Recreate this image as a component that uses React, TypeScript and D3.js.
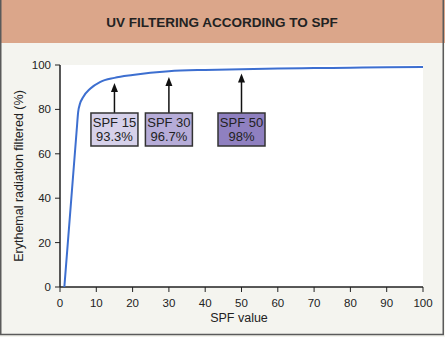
import React from "react";
import * as d3 from "d3";

const spfValues = [1.2, 4.6, 5.0, 5.5, 6.4, 8.3, 11, 15, 20, 30, 40, 50, 60, 70, 80, 90, 100];
const filtered = [0, 70.7, 78.8, 82.5, 85.6, 89.3, 92.3, 94.2, 95.5, 97.2, 97.8, 98.1, 98.4, 98.6, 98.8, 99, 99.1];
const xTicks = [0, 10, 20, 30, 40, 50, 60, 70, 80, 90, 100];
const yTicks = [0, 20, 40, 60, 80, 100];
const boxSpf = [15, 30, 50];
const boxLabels = ["SPF 15", "SPF 30", "SPF 50"];
const boxPercents = ["93.3%", "96.7%", "98%"];
const boxColors = ["#d6d1ea", "#b6acd8", "#8f80c0"];
const arrowTips = [83, 77, 73.5];

const W = 445;
const H = 337;
const FONT = "Liberation Sans, Arial, Helvetica, sans-serif";

export default function App() {
  const x = d3.scaleLinear().domain([0, 100]).range([60, 423]);
  const y = d3.scaleLinear().domain([0, 100]).range([287, 65]);
  const pts = spfValues.map((s, i) => [s, filtered[i]] as [number, number]);
  const line = d3
    .line<[number, number]>()
    .x((d) => x(d[0]))
    .y((d) => y(d[1]))
    .curve(d3.curveMonotoneX);

  const boxW = 47;
  const boxH = 33;
  const boxTop = 113;

  return (
    <svg
      width={W}
      height={H}
      style={{ position: "absolute", left: 0, top: 0, fontFamily: FONT }}
    >
      <rect x={0} y={0} width={W} height={H} fill="#f4f4ef" />
      <rect x={0} y={0} width={W} height={43} fill="#dba68a" />
      <rect x={0.75} y={-2} width={W - 2.5} height={H - 0.5} fill="none" stroke="#5a5a5a" strokeWidth={1.5} />
      <text x={222} y={27} textAnchor="middle" fontSize={13.5} fontWeight="bold" fill="#222">
        UV FILTERING ACCORDING TO SPF
      </text>

      <rect x={x(0)} y={y(100)} width={x(100) - x(0)} height={y(0) - y(100)} fill="#ffffff" />

      {/* Y axis */}
      <line x1={x(0)} x2={x(0)} y1={y(100)} y2={y(0)} stroke="#222" strokeWidth={1.5} />
      {yTicks.map((t) => (
        <g key={"y" + t}>
          <line x1={x(0) - 5} x2={x(0)} y1={y(t)} y2={y(t)} stroke="#222" strokeWidth={1} />
          <text x={x(0) - 9} y={y(t) + 4} textAnchor="end" fontSize={11.5} fill="#222">
            {t}
          </text>
        </g>
      ))}
      {/* X axis */}
      <line x1={x(0)} x2={x(100)} y1={y(0)} y2={y(0)} stroke="#222" strokeWidth={1.5} />
      {xTicks.map((t) => (
        <g key={"x" + t}>
          <line x1={x(t)} x2={x(t)} y1={y(0)} y2={y(0) + 5} stroke="#222" strokeWidth={1} />
          <text x={x(t)} y={y(0) + 20} textAnchor="middle" fontSize={11.5} fill="#222">
            {t}
          </text>
        </g>
      ))}
      <text x={239} y={322} textAnchor="middle" fontSize={12.5} fill="#222">
        SPF value
      </text>
      <text
        transform={`translate(23,${(y(0) + y(100)) / 2}) rotate(-90)`}
        textAnchor="middle"
        fontSize={12.5}
        fill="#222"
      >
        Erythemal radiation filtered (%)
      </text>

      <path d={line(pts) || ""} fill="none" stroke="#3d6fd0" strokeWidth={2} />

      {boxSpf.map((s, i) => {
        const cx = x(s);
        const tip = arrowTips[i];
        return (
          <g key={"b" + i}>
            <line x1={cx} x2={cx} y1={boxTop} y2={tip + 6} stroke="#111" strokeWidth={1.5} />
            <path d={`M${cx},${tip} L${cx - 3.5},${tip + 9} L${cx + 3.5},${tip + 9} Z`} fill="#111" />
            <rect x={cx - boxW / 2} y={boxTop} width={boxW} height={boxH} fill={boxColors[i]} stroke="#333" strokeWidth={1.5} />
            <text x={cx} y={boxTop + 13.5} textAnchor="middle" fontSize={13} fill="#222">
              {boxLabels[i]}
            </text>
            <text x={cx} y={boxTop + 28} textAnchor="middle" fontSize={13} fill="#222">
              {boxPercents[i]}
            </text>
          </g>
        );
      })}
    </svg>
  );
}
